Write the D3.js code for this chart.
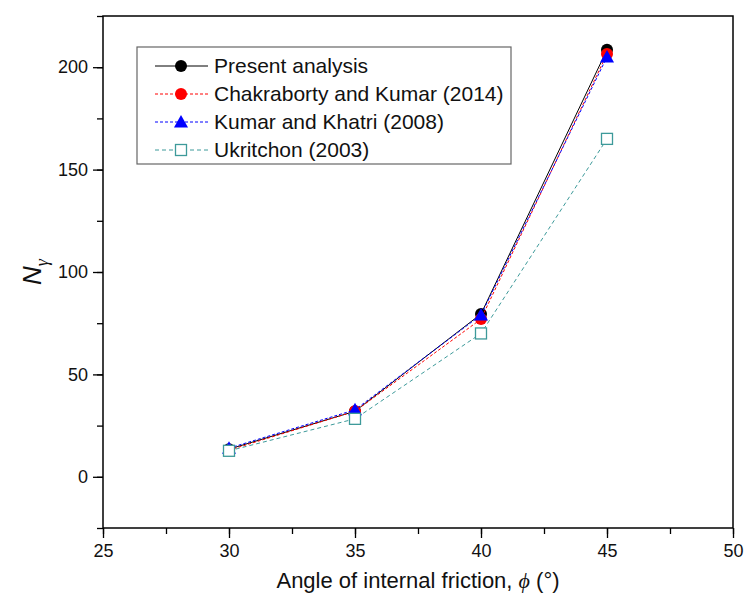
<html>
<head>
<meta charset="UTF-8">
<title>N gamma</title>
<script src="https://d3js.org/d3.v7.min.js"></script>
<style>html,body{margin:0;padding:0;background:#fff;}</style>
</head>
<body>
<div id="container"></div>
<script>
const phi = [30, 35, 40, 45]
const present = [13.5, 32, 79.5, 208.5]
const chakraborty = [13, 32, 77, 206.5]
const kumar = [14, 32.7, 79, 205]
const ukritchon = [12.7, 28.3, 70, 165]
const seriesNames = ['Present analysis', 'Chakraborty and Kumar (2014)', 'Kumar and Khatri (2008)', 'Ukritchon (2003)']
const xTicks = [25, 30, 35, 40, 45, 50]
const yTicks = [0, 50, 100, 150, 200]

const width = 745, height = 605
const m = { top: 16, right: 12, bottom: 77, left: 103 }

const svg = d3.select('#container').append('svg')
  .attr('width', width).attr('height', height)
  .style('font-family', 'Liberation Sans, Arial, sans-serif')

const x = d3.scaleLinear().domain([25, 50]).range([m.left, width - m.right])
const y = d3.scaleLinear().domain([-25, 225]).range([height - m.bottom, m.top])

// frame
svg.append('rect')
  .attr('x', x(25)).attr('y', y(225))
  .attr('width', x(50) - x(25)).attr('height', y(-25) - y(225))
  .attr('fill', 'none').attr('stroke', '#000').attr('stroke-width', 1.5)

// axes: major + minor ticks
const xAxis = svg.append('g').attr('transform', 'translate(0,' + y(-25) + ')')
xAxis.call(d3.axisBottom(x).tickValues(d3.range(25, 50.1, 2.5)).tickSize(6).tickFormat(''))
xAxis.call(g => g.append('g').call(d3.axisBottom(x).tickValues(xTicks).tickSize(10).tickPadding(6)))
const yAxis = svg.append('g').attr('transform', 'translate(' + x(25) + ',0)')
yAxis.call(d3.axisLeft(y).tickValues(d3.range(-25, 225.1, 25)).tickSize(6).tickFormat(''))
yAxis.call(g => g.append('g').call(d3.axisLeft(y).tickValues(yTicks).tickSize(10).tickPadding(5)))
svg.selectAll('.domain').remove()
svg.selectAll('.tick line').attr('stroke', '#000').attr('stroke-width', 1.3)
svg.selectAll('.tick text').attr('font-size', 18).attr('fill', '#111')
  .attr('font-family', 'Liberation Sans, Arial, sans-serif')

// axis titles
svg.append('text')
  .attr('x', (x(25) + x(50)) / 2).attr('y', 588)
  .attr('text-anchor', 'middle').attr('font-size', 22).attr('fill', '#111')
  .html('Angle of internal friction, <tspan font-family="Liberation Serif, serif" font-style="italic">\u03d5</tspan> (\u00b0)')

svg.append('text')
  .attr('transform', 'translate(41,' + y(100) + ') rotate(-90)')
  .attr('text-anchor', 'middle').attr('font-size', 26).attr('fill', '#111')
  .html('<tspan font-style="italic">N</tspan><tspan font-family="Liberation Serif, serif" font-style="italic" font-size="18" dy="7">\u03b3</tspan>')

const series = [
  { name: seriesNames[0], values: present, color: '#000', dash: null, shape: 'circle', fill: '#000' },
  { name: seriesNames[1], values: chakraborty, color: '#ff0000', dash: '3,2', shape: 'circle', fill: '#ff0000' },
  { name: seriesNames[2], values: kumar, color: '#0000ff', dash: '3,2', shape: 'triangle', fill: '#0000ff' },
  { name: seriesNames[3], values: ukritchon, color: '#3d9a9a', dash: '4,3', shape: 'square', fill: '#fff' }
]

const line = d3.line().x((d, i) => x(phi[i])).y(d => y(d))

function marker(g, s, cx, cy) {
  if (s.shape === 'circle') {
    g.append('circle').attr('cx', cx).attr('cy', cy).attr('r', 6).attr('fill', s.fill)
  } else if (s.shape === 'triangle') {
    g.append('path').attr('d', 'M' + cx + ',' + (cy - 7) + 'L' + (cx + 7) + ',' + (cy + 5.5) + 'L' + (cx - 7) + ',' + (cy + 5.5) + 'Z')
      .attr('fill', s.fill)
  } else {
    g.append('rect').attr('x', cx - 5.5).attr('y', cy - 5.5).attr('width', 11).attr('height', 11)
      .attr('fill', s.fill).attr('stroke', s.color).attr('stroke-width', 1.3)
  }
}

series.forEach(s => {
  svg.append('path').datum(s.values)
    .attr('d', line).attr('fill', 'none')
    .attr('stroke', s.color).attr('stroke-width', 1)
    .attr('stroke-dasharray', s.dash)
  const g = svg.append('g')
  s.values.forEach((v, i) => marker(g, s, x(phi[i]), y(v)))
})

// legend
const lg = svg.append('g')
lg.append('rect').attr('x', 137).attr('y', 47).attr('width', 374).attr('height', 117)
  .attr('fill', '#fff').attr('stroke', '#666').attr('stroke-width', 1.2)
series.forEach((s, i) => {
  const ly = 66 + i * 28
  lg.append('line').attr('x1', 155).attr('x2', 208).attr('y1', ly).attr('y2', ly)
    .attr('stroke', s.color).attr('stroke-width', 1).attr('stroke-dasharray', s.dash)
  marker(lg, s, 181, ly)
  lg.append('text').attr('x', 214).attr('y', ly + 7)
    .attr('font-size', 21).attr('fill', '#111').text(s.name)
})
</script>
</body>
</html>
